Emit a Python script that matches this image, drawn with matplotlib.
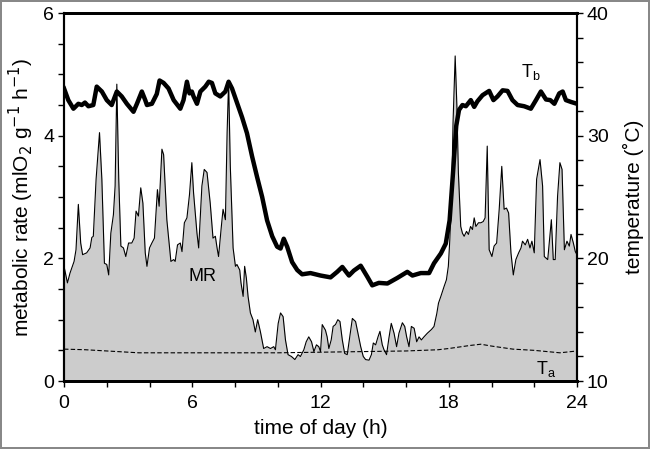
import matplotlib
matplotlib.use("Agg")
import matplotlib.pyplot as plt
from matplotlib.ticker import MultipleLocator

plt.rcParams['font.family'] = ['Liberation Sans', 'DejaVu Sans']

# ==== Data ====
# metabolic rate (mlO2 g-1 h-1), left axis
mr_hours = [0.0, 0.16, 0.28, 0.47, 0.56, 0.67, 0.78, 0.87, 1.06, 1.22, 1.30, 1.37, 1.50, 1.66, 1.77,
            1.89, 2.00, 2.09, 2.19, 2.31, 2.39, 2.47, 2.56, 2.66, 2.78, 2.89, 3.02, 3.17, 3.28, 3.37,
            3.48, 3.59, 3.69, 3.80, 3.88, 4.00, 4.11, 4.23, 4.37, 4.45, 4.58, 4.66, 4.81, 5.00, 5.13,
            5.20, 5.31, 5.44, 5.52, 5.63, 5.75, 5.87, 5.98, 6.06, 6.22, 6.30, 6.45, 6.56, 6.69, 6.84,
            6.97, 7.08, 7.16, 7.23, 7.36, 7.44, 7.55, 7.63, 7.70, 7.78, 7.91, 8.02, 8.09, 8.22, 8.28,
            8.38, 8.45, 8.53, 8.61, 8.72, 8.84, 8.95, 9.06, 9.19, 9.34, 9.50, 9.66, 9.81, 9.89, 10.02,
            10.13, 10.25, 10.36, 10.48, 10.64, 10.80, 10.95, 11.06, 11.22, 11.33, 11.45, 11.58, 11.69,
            11.81, 11.92, 12.00, 12.08, 12.23, 12.31, 12.39, 12.50, 12.59, 12.70, 12.81, 12.91, 13.02,
            13.13, 13.25, 13.37, 13.49, 13.64, 13.75, 13.88, 14.00, 14.11, 14.27, 14.38, 14.47, 14.58,
            14.69, 14.78, 14.89, 14.97, 15.09, 15.20, 15.31, 15.44, 15.56, 15.67, 15.83, 15.94, 16.03,
            16.14, 16.25, 16.38, 16.50, 16.61, 16.72, 16.84, 17.00, 17.19, 17.31, 17.44, 17.52, 17.63,
            17.78, 17.89, 17.98, 18.05, 18.14, 18.20, 18.30, 18.38, 18.45, 18.56, 18.64, 18.72, 18.83,
            18.92, 19.02, 19.11, 19.19, 19.27, 19.39, 19.50, 19.61, 19.70, 19.80, 19.89, 20.02, 20.12,
            20.24, 20.36, 20.48, 20.59, 20.70, 20.80, 20.91, 21.02, 21.14, 21.27, 21.38, 21.45, 21.58,
            21.69, 21.80, 21.89, 22.00, 22.11, 22.27, 22.39, 22.47, 22.63, 22.70, 22.80, 22.89, 22.98,
            23.09, 23.20, 23.30, 23.41, 23.53, 23.64, 23.72, 23.83, 23.92, 24.00]
mr_values = [1.87, 1.60, 1.76, 1.95, 2.14, 2.88, 2.25, 2.06, 2.09, 2.17, 2.34, 2.36, 3.29, 4.05, 3.29,
             1.92, 1.90, 1.73, 2.41, 2.71, 3.18, 4.84, 3.29, 2.20, 2.17, 2.03, 2.25, 2.25, 2.33, 2.77,
             2.69, 3.15, 2.90, 2.09, 1.87, 2.17, 2.25, 2.33, 3.12, 2.85, 3.78, 3.69, 2.63, 1.95, 1.98,
             1.95, 2.22, 2.25, 2.11, 2.58, 2.66, 3.04, 3.56, 3.07, 2.41, 2.17, 3.18, 3.45, 3.40, 2.90,
             2.33, 2.36, 2.17, 2.03, 2.52, 2.80, 2.63, 4.05, 4.89, 3.50, 2.17, 1.87, 1.90, 1.81, 1.60,
             1.38, 1.87, 1.68, 1.38, 1.11, 1.00, 0.80, 1.00, 0.80, 0.53, 0.56, 0.53, 0.56, 0.51, 0.94,
             1.11, 1.05, 0.67, 0.43, 0.40, 0.35, 0.43, 0.40, 0.51, 0.64, 0.72, 0.64, 0.48,
             0.59, 0.56, 0.48, 0.92, 0.83, 0.72, 0.53, 0.67, 0.89, 0.92, 1.00, 0.97, 0.67,
             0.45, 0.43, 0.72, 1.02, 0.97, 0.78, 0.56, 0.40, 0.35, 0.34, 0.43, 0.62, 0.59,
             0.72, 0.81, 0.59, 0.51, 0.43, 0.70, 0.94, 0.78, 0.56, 0.78, 0.95, 0.89, 0.72,
             0.56, 0.89, 0.86, 0.64, 0.72, 0.67, 0.72, 0.78, 0.84, 0.89, 1.10, 1.27, 1.38,
             1.54, 1.65, 1.87, 2.31, 3.12, 4.21, 5.30, 4.48, 3.40, 2.52, 2.41, 2.36, 2.44,
             2.39, 2.52, 2.47, 2.66, 2.52, 2.58, 2.58, 2.60, 2.66, 3.83, 2.14, 2.03, 2.20,
             2.25, 2.80, 3.50, 2.80, 2.82, 2.74, 2.09, 1.73, 1.98, 2.09, 2.17, 2.28, 2.22,
             2.31, 2.17, 2.28, 2.09, 3.29, 3.61, 3.18, 2.03, 1.98, 2.25, 2.63, 1.98, 1.98,
             3.01, 3.56, 3.45, 2.14, 2.28, 2.20, 2.39, 2.25, 2.11, 2.06]

# body temperature Tb (deg C), right axis
tb_hours = [0.0, 0.2, 0.44, 0.67, 0.83, 0.98, 1.14, 1.37, 1.53, 1.77, 2.0, 2.23, 2.47, 2.70, 2.94,
            3.25, 3.41, 3.64, 3.80, 3.88, 4.11, 4.34, 4.47, 4.66, 4.89, 5.13, 5.44, 5.59, 5.75, 5.87,
            5.98, 6.06, 6.22, 6.38, 6.61, 6.77, 6.92, 7.08, 7.31, 7.55, 7.70, 7.86, 8.09, 8.33, 8.56,
            8.8, 9.03, 9.27, 9.5, 9.74, 9.97, 10.13, 10.28, 10.44, 10.67, 10.91, 11.14, 11.53, 12.0,
            12.47, 12.78, 13.02, 13.33, 13.56, 13.88, 14.19, 14.42, 14.73, 15.13, 15.59, 16.06, 16.3,
            16.69, 17.08, 17.31, 17.63, 17.86, 18.04, 18.2, 18.35, 18.48, 18.64, 18.8, 19.03, 19.19,
            19.34, 19.58, 19.89, 20.09, 20.28, 20.52, 20.75, 20.98, 21.22, 21.53, 21.84, 22.08, 22.31,
            22.55, 22.75, 22.94, 23.17, 23.33, 23.48, 23.72, 24.0]
tb_values = [33.85, 32.9, 32.2, 32.6, 32.5, 32.7, 32.4, 32.5, 34.0, 33.6, 32.9, 32.5, 33.6, 33.2, 32.6,
             31.95, 32.6, 33.6, 32.9, 32.5, 32.6, 33.4, 34.5, 34.3, 33.85, 32.9, 32.2, 32.9, 34.4, 33.45,
             33.6, 33.2, 32.6, 33.6, 34.0, 34.4, 34.3, 33.45, 33.2, 33.6, 34.4, 33.85, 32.7, 31.5, 30.2,
             28.3, 26.65, 25.0, 23.1, 21.8, 20.95, 20.8, 21.6, 20.95, 19.7, 19.05, 18.7, 18.8, 18.6,
             18.45, 18.9, 19.3, 18.6, 19.0, 19.4, 18.5, 17.8, 18.0, 17.95, 18.4, 18.9, 18.6,
             18.8, 18.8, 19.6, 20.4, 21.2, 23.1, 27.0, 30.8, 32.1, 32.5, 32.4, 32.9, 32.35,
             32.8, 33.3, 33.65, 32.9, 33.2, 33.7, 33.65, 32.9, 32.5, 32.4, 32.2, 32.9, 33.6,
             32.95, 32.9, 32.6, 33.45, 33.6, 32.9, 32.75, 32.6]

# ambient temperature Ta (deg C), right axis
ta_hours = [0, 1, 2.5, 3.5, 6, 8, 10, 12, 14, 16, 17.5, 18, 19, 19.5, 20, 21, 22, 23.2, 24]
ta_values = [12.6, 12.55, 12.4, 12.3, 12.3, 12.3, 12.3, 12.35, 12.4, 12.45, 12.55, 12.65, 12.9, 13.0,
             12.85, 12.6, 12.5, 12.3, 12.45]

# ==== Plot ====
fig = plt.figure(figsize=(6.5, 4.49), dpi=100)
fig.patch.set_edgecolor('#888888')
fig.patch.set_linewidth(1.5)
ax = fig.add_axes([0.0985, 0.1514, 0.7892, 0.8196])

ax.fill_between(mr_hours, mr_values, 0, color='#cccccc', lw=0)
ax.plot(mr_hours, mr_values, color='black', lw=0.8)
ax.set_xlim(0, 24)
ax.set_ylim(0, 6)
ax.xaxis.set_major_locator(MultipleLocator(6))
ax.xaxis.set_minor_locator(MultipleLocator(2))
ax.yaxis.set_major_locator(MultipleLocator(2))
ax.yaxis.set_minor_locator(MultipleLocator(0.5))
ax.set_xlabel('time of day (h)', fontsize=15, labelpad=5)
ax.set_ylabel('metabolic rate (mlO$_2$ g$^{-1}$ h$^{-1}$)', fontsize=15, labelpad=5)
ax.text(6.5, 1.7, 'MR', fontsize=13, ha='center', va='center')

ax2 = ax.twinx()
ax2.plot(tb_hours, tb_values, color='black', lw=3.2, solid_joinstyle='round')
ax2.plot(ta_hours, ta_values, color='black', lw=0.8, ls=(0, (4, 2)))
ax2.set_ylim(10, 40)
ax2.yaxis.set_major_locator(MultipleLocator(10))
ax2.yaxis.set_minor_locator(MultipleLocator(2))
ax2.set_ylabel('temperature (\u02daC)', fontsize=15, labelpad=10)
ax2.text(21.85, 35.2, 'T$_\\mathregular{b}$', fontsize=13, ha='center', va='center')
ax2.text(22.55, 11.0, 'T$_\\mathregular{a}$', fontsize=13, ha='center', va='center')

for a in (ax, ax2):
    a.tick_params(which='both', direction='out', length=4, width=1, labelsize=14, pad=3)
    for side in ('left', 'right'):
        a.spines[side].set_linewidth(1.5)
    for side in ('top', 'bottom'):
        a.spines[side].set_linewidth(2)
ax.tick_params(axis='x', which='both', pad=6)

fig.savefig('out.png', dpi=100, edgecolor=fig.get_edgecolor())
